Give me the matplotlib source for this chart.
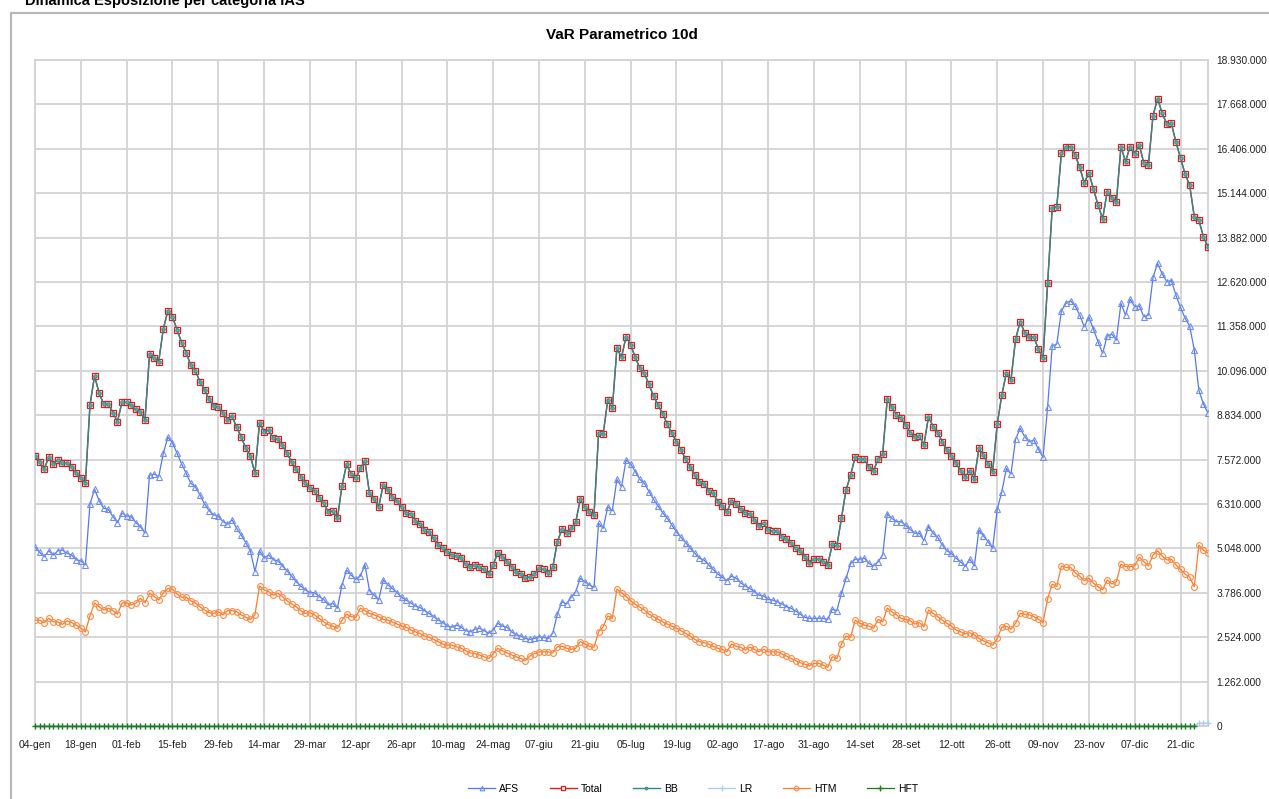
import numpy as np
import matplotlib
matplotlib.use("Agg")
import matplotlib.pyplot as plt
from matplotlib.patches import Rectangle

plt.rcParams['font.family'] = ['Liberation Sans', 'DejaVu Sans']

# tick labels (every 10 business days)
date_labels = ['04-gen', '18-gen', '01-feb', '15-feb', '29-feb', '14-mar', '29-mar',
               '12-apr', '26-apr', '10-mag', '24-mag', '07-giu', '21-giu', '05-lug',
               '19-lug', '02-ago', '17-ago', '31-ago', '14-set', '28-set', '12-ott',
               '26-ott', '09-nov', '23-nov', '07-dic', '21-dic']

# values in millions of euro, one per business day
total_vals = [
    7.67, 7.51, 7.30, 7.64, 7.45, 7.56, 7.47, 7.47, 7.37, 7.18,
    7.05, 6.90, 9.13, 9.95, 9.46, 9.15, 9.15, 8.91, 8.65, 9.22,
    9.20, 9.12, 9.00, 8.93, 8.70, 10.57, 10.45, 10.36, 11.29, 11.80,
    11.63, 11.26, 10.90, 10.61, 10.25, 10.10, 9.79, 9.55, 9.29, 9.10,
    9.06, 8.91, 8.70, 8.81, 8.49, 8.22, 7.89, 7.68, 7.18, 8.62,
    8.37, 8.41, 8.18, 8.15, 7.99, 7.75, 7.51, 7.30, 7.09, 6.90,
    6.76, 6.69, 6.47, 6.33, 6.09, 6.12, 5.90, 6.83, 7.44, 7.16,
    7.04, 7.32, 7.54, 6.61, 6.45, 6.23, 6.85, 6.71, 6.50, 6.40,
    6.22, 6.05, 6.03, 5.84, 5.74, 5.57, 5.50, 5.33, 5.15, 5.05,
    4.94, 4.86, 4.84, 4.77, 4.60, 4.53, 4.58, 4.51, 4.45, 4.32,
    4.58, 4.93, 4.81, 4.67, 4.53, 4.39, 4.32, 4.20, 4.24, 4.32,
    4.48, 4.45, 4.36, 4.51, 5.24, 5.59, 5.49, 5.62, 5.79, 6.44,
    6.23, 6.09, 6.00, 8.32, 8.29, 9.27, 9.03, 10.74, 10.48, 11.07,
    10.83, 10.48, 10.17, 10.02, 9.71, 9.37, 9.12, 8.87, 8.58, 8.32,
    8.08, 7.85, 7.58, 7.37, 7.13, 6.94, 6.88, 6.69, 6.61, 6.38,
    6.25, 6.08, 6.40, 6.31, 6.16, 6.05, 6.03, 5.86, 5.69, 5.76,
    5.57, 5.55, 5.54, 5.38, 5.31, 5.19, 5.05, 4.98, 4.81, 4.64,
    4.74, 4.74, 4.67, 4.58, 5.16, 5.12, 5.90, 6.71, 7.13, 7.65,
    7.58, 7.58, 7.35, 7.26, 7.58, 7.73, 9.29, 9.06, 8.84, 8.75,
    8.56, 8.34, 8.22, 8.24, 7.99, 8.79, 8.51, 8.34, 8.08, 7.85,
    7.67, 7.47, 7.26, 7.09, 7.26, 7.02, 7.89, 7.70, 7.45, 7.23,
    8.58, 9.41, 10.04, 9.84, 10.99, 11.49, 11.18, 11.05, 11.05, 10.71,
    10.45, 12.60, 14.72, 14.76, 16.28, 16.45, 16.47, 16.23, 15.88, 15.43,
    15.73, 15.26, 14.81, 14.41, 15.19, 15.02, 14.89, 16.47, 16.04, 16.47,
    16.26, 16.52, 15.99, 15.95, 17.35, 17.83, 17.42, 17.11, 17.13, 16.60,
    16.14, 15.69, 15.37, 14.48, 14.38, 13.91, 13.61,
]

# BB coincides with Total in the reference
bb_vals = list(total_vals)

afs_vals = [
    5.08, 4.94, 4.81, 4.98, 4.86, 4.98, 5.00, 4.91, 4.86, 4.72,
    4.70, 4.58, 6.31, 6.73, 6.40, 6.19, 6.16, 5.95, 5.78, 6.05,
    5.97, 5.95, 5.78, 5.67, 5.48, 7.13, 7.16, 7.09, 7.75, 8.21,
    8.05, 7.75, 7.45, 7.18, 6.90, 6.80, 6.57, 6.31, 6.12, 6.00,
    5.97, 5.81, 5.74, 5.86, 5.62, 5.43, 5.21, 4.98, 4.39, 4.98,
    4.77, 4.86, 4.72, 4.70, 4.55, 4.41, 4.26, 4.10, 3.98, 3.87,
    3.79, 3.79, 3.68, 3.60, 3.44, 3.49, 3.35, 4.01, 4.43, 4.29,
    4.17, 4.26, 4.58, 3.85, 3.72, 3.58, 4.15, 4.01, 3.91, 3.79,
    3.66, 3.58, 3.50, 3.41, 3.37, 3.28, 3.20, 3.11, 3.01, 2.94,
    2.84, 2.81, 2.87, 2.81, 2.71, 2.68, 2.75, 2.78, 2.71, 2.64,
    2.73, 2.92, 2.84, 2.81, 2.68, 2.59, 2.56, 2.49, 2.46, 2.49,
    2.54, 2.52, 2.49, 2.64, 3.18, 3.53, 3.47, 3.66, 3.82, 4.20,
    4.10, 4.01, 3.94, 5.76, 5.62, 6.23, 6.12, 7.01, 6.80, 7.56,
    7.45, 7.23, 7.01, 6.90, 6.66, 6.44, 6.25, 6.06, 5.90, 5.71,
    5.52, 5.36, 5.21, 5.05, 4.91, 4.77, 4.72, 4.58, 4.45, 4.32,
    4.23, 4.13, 4.26, 4.20, 4.07, 3.98, 3.91, 3.82, 3.72, 3.70,
    3.60, 3.58, 3.53, 3.47, 3.39, 3.35, 3.27, 3.18, 3.09, 3.06,
    3.06, 3.06, 3.06, 3.03, 3.32, 3.28, 3.77, 4.20, 4.62, 4.74,
    4.74, 4.77, 4.62, 4.55, 4.67, 4.86, 6.03, 5.90, 5.81, 5.81,
    5.71, 5.59, 5.48, 5.48, 5.27, 5.67, 5.48, 5.36, 5.15, 4.98,
    4.91, 4.77, 4.67, 4.53, 4.74, 4.55, 5.57, 5.40, 5.24, 5.05,
    6.16, 6.66, 7.32, 7.16, 8.15, 8.46, 8.22, 8.08, 8.13, 7.86,
    7.64, 9.08, 10.80, 10.86, 11.80, 12.01, 12.09, 11.94, 11.68, 11.35,
    11.62, 11.28, 10.92, 10.59, 11.09, 11.14, 10.97, 12.01, 11.68, 12.13,
    11.92, 11.94, 11.63, 11.68, 12.75, 13.15, 12.85, 12.63, 12.66, 12.25,
    11.90, 11.59, 11.37, 10.69, 9.55, 9.15, 8.89,
]

htm_vals = [
    3.01, 3.01, 2.94, 3.06, 2.96, 2.96, 2.89, 2.99, 2.94, 2.87,
    2.78, 2.68, 3.13, 3.50, 3.39, 3.30, 3.35, 3.28, 3.18, 3.50,
    3.50, 3.44, 3.49, 3.63, 3.50, 3.77, 3.68, 3.58, 3.79, 3.91,
    3.89, 3.75, 3.66, 3.66, 3.56, 3.50, 3.39, 3.30, 3.22, 3.20,
    3.25, 3.16, 3.28, 3.28, 3.25, 3.16, 3.09, 3.03, 3.16, 3.98,
    3.87, 3.82, 3.72, 3.77, 3.68, 3.56, 3.47, 3.39, 3.28, 3.20,
    3.22, 3.16, 3.06, 2.96, 2.88, 2.84, 2.78, 3.01, 3.18, 3.11,
    3.09, 3.35, 3.28, 3.20, 3.16, 3.11, 3.03, 3.01, 2.96, 2.90,
    2.84, 2.81, 2.73, 2.68, 2.63, 2.56, 2.52, 2.46, 2.40, 2.33,
    2.30, 2.30, 2.25, 2.21, 2.14, 2.08, 2.06, 2.02, 1.97, 1.92,
    2.05, 2.21, 2.14, 2.08, 2.02, 1.97, 1.92, 1.86, 1.99, 2.06,
    2.11, 2.11, 2.11, 2.08, 2.25, 2.27, 2.21, 2.18, 2.21, 2.40,
    2.33, 2.27, 2.24, 2.68, 2.82, 3.13, 3.06, 3.89, 3.79, 3.68,
    3.56, 3.46, 3.38, 3.30, 3.18, 3.11, 3.03, 2.96, 2.90, 2.84,
    2.78, 2.71, 2.63, 2.56, 2.46, 2.40, 2.37, 2.33, 2.27, 2.21,
    2.18, 2.11, 2.33, 2.27, 2.24, 2.16, 2.24, 2.18, 2.11, 2.18,
    2.11, 2.11, 2.11, 2.05, 1.99, 1.92, 1.86, 1.80, 1.76, 1.71,
    1.78, 1.78, 1.73, 1.67, 1.97, 1.92, 2.33, 2.56, 2.52, 3.01,
    2.92, 2.87, 2.84, 2.78, 3.03, 2.96, 3.35, 3.25, 3.16, 3.06,
    3.03, 2.99, 2.90, 2.94, 2.82, 3.30, 3.20, 3.11, 3.01, 2.92,
    2.84, 2.73, 2.68, 2.62, 2.65, 2.59, 2.49, 2.42, 2.37, 2.29,
    2.49, 2.81, 2.84, 2.75, 2.92, 3.20, 3.18, 3.16, 3.11, 3.03,
    2.94, 3.62, 4.03, 3.97, 4.55, 4.51, 4.51, 4.36, 4.26, 4.13,
    4.20, 4.06, 3.96, 3.87, 4.15, 4.04, 4.10, 4.60, 4.53, 4.53,
    4.55, 4.80, 4.67, 4.55, 4.86, 4.98, 4.83, 4.72, 4.74, 4.58,
    4.45, 4.32, 4.23, 3.96, 5.14, 5.00, 4.91,
]

# LR and HFT sit on zero; HFT stops three days before the end
lr_vals = [0.0] * 254 + [0.08, 0.08, 0.08]
hft_vals = [0.0] * 254 + [np.nan, np.nan, np.nan]

x = np.arange(len(total_vals))

W, H = 1269, 799
fig = plt.figure(figsize=(W / 100, H / 100), dpi=100)
ax = fig.add_axes([35 / W, 1 - 726 / H, (1208 - 35) / W, (726 - 60) / H])

grid_c = '#D3D3D3'

ax.plot(x, total_vals, color='#E41A1C', lw=1, marker='s', ms=4.2,
        mfc='white', mec='#E41A1C', mew=0.9, label='Total', zorder=4)
ax.plot(x, bb_vals, color='#2A8C86', lw=1, marker='o', ms=2.6,
        mfc='#5FA8A2', mec='#2A8C86', mew=0.6, label='BB', zorder=5)
ax.plot(x, afs_vals, color='#5578F0', lw=0.9, marker='^', ms=4.2,
        mfc='none', mec='#7090F5', mew=0.8, label='AFS', zorder=3)
ax.plot(x, lr_vals, color='#A8CCF5', lw=0.9, marker='+', ms=5,
        mew=0.9, label='LR', zorder=3, clip_on=False)
ax.plot(x, htm_vals, color='#FF7A2A', lw=0.9, marker='o', ms=4.2,
        mfc='none', mec='#FF8A40', mew=0.8, label='HTM', zorder=3)
ax.plot(x, hft_vals, color='#1E7B1E', lw=0.9, marker='+', ms=5,
        mew=1.0, label='HFT', zorder=4, clip_on=False)

ax.set_xlim(0, len(x) - 1)
ax.set_ylim(0, 18.93)

yticks = np.arange(16) * 1.262
ax.set_yticks(yticks)
ax.set_yticklabels(['{:,}'.format(int(round(v * 1e6))).replace(',', '.') for v in yticks],
                   fontsize=7.3, color='#222222')
ax.yaxis.tick_right()

ax.set_xticks(np.arange(0, len(x), 10))
ax.set_xticklabels(date_labels, fontsize=7.5, color='#222222')

ax.tick_params(axis='both', length=0)
ax.tick_params(axis='y', pad=6.3)
ax.tick_params(axis='x', pad=10)

ax.grid(True, color=grid_c, lw=1.3)
ax.set_axisbelow(True)
for s in ax.spines.values():
    s.set_color(grid_c)
    s.set_linewidth(1.3)

ax.set_title('VaR Parametrico 10d', fontsize=11, fontweight='bold', pad=15)

# outer chart frame and sheet heading
fig.patches.append(Rectangle((11 / W, -0.05), 1.0, 1 - 13 / H + 0.05,
                             transform=fig.transFigure, fill=False,
                             ec='#B8B8B8', lw=1.6))
fig.text(25 / W, 1 - 4.5 / H, 'Dinamica Esposizione per categoria IAS',
         fontsize=10.5, fontweight='bold', va='baseline', ha='left')

handles, labels = ax.get_legend_handles_labels()
order = ['AFS', 'Total', 'BB', 'LR', 'HTM', 'HFT']
hmap = dict(zip(labels, handles))
fig.legend([hmap[k] for k in order], order, loc='center',
           bbox_to_anchor=(693 / W, 1 - 789 / H), ncol=6, frameon=False,
           fontsize=7.5, handlelength=2.6, handletextpad=0.4,
           columnspacing=2.9, markerscale=0.8)

fig.savefig('out.png', dpi=100)
